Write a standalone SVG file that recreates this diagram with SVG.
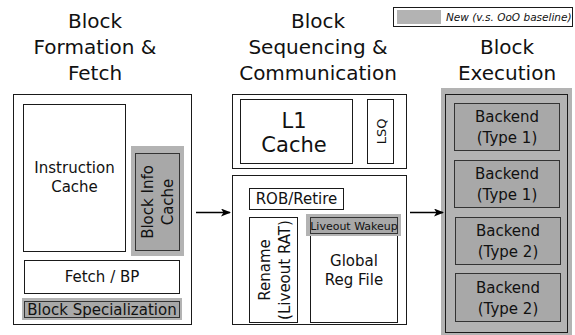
<svg xmlns="http://www.w3.org/2000/svg" width="575" height="335" viewBox="0 0 575 335">
  <defs>
    <style>
      .box { fill: #ffffff; stroke: #1a1a1a; stroke-width: 1; }
      .band { fill: #b3b3b3; stroke: none; }
      .newbox { fill: #a8a8a8; stroke: #333333; stroke-width: 1; }
      .title { font-family: "DejaVu Sans", sans-serif; font-size: 20px; fill: #111; text-anchor: middle; }
      .lbl { font-family: "DejaVu Sans", sans-serif; font-size: 15px; fill: #111; text-anchor: middle; }
      .big { font-family: "DejaVu Sans", sans-serif; font-size: 21px; fill: #111; text-anchor: middle; }
      .small { font-family: "DejaVu Sans", sans-serif; font-size: 11px; fill: #111; text-anchor: middle; }
      .legend { font-family: "DejaVu Sans", sans-serif; font-size: 10.5px; font-style: italic; fill: #111; }
      .conn { stroke: #000; stroke-width: 1.5; fill: none; }
    </style>
    <marker id="arrow" viewBox="0 0 10 8" refX="9" refY="4" markerWidth="10" markerHeight="8" markerUnits="userSpaceOnUse" orient="auto">
      <path d="M0,0 L10,4 L0,8 L2.5,4 Z" fill="#000"/>
    </marker>
  </defs>

  <!-- legend -->
  <g id="legend">
    <rect x="393.5" y="7.5" width="179" height="19" class="box"/>
    <rect x="397" y="10" width="44" height="14" class="band"/>
    <text x="446" y="21" class="legend">New (v.s. OoO baseline)</text>
  </g>

  <!-- column titles -->
  <g id="titles">
    <text class="title" x="95" y="28">Block</text>
    <text class="title" x="95" y="54">Formation &amp;</text>
    <text class="title" x="95" y="80">Fetch</text>
    <text class="title" x="318" y="28">Block</text>
    <text class="title" x="318" y="54">Sequencing &amp;</text>
    <text class="title" x="318" y="80">Communication</text>
    <text class="title" x="507" y="54">Block</text>
    <text class="title" x="507" y="80">Execution</text>
  </g>

  <!-- front end: formation and fetch -->
  <g id="frontend">
    <rect x="13.5" y="94.5" width="178" height="230" class="box"/>
  </g>
  <g id="icache">
    <rect x="23.5" y="104.5" width="102" height="147" class="box"/>
    <text class="lbl" x="74.5" y="173">Instruction</text>
    <text class="lbl" x="74.5" y="192">Cache</text>
  </g>
  <g id="block-info-cache">
    <rect x="131" y="146" width="53" height="110" class="band"/>
    <rect x="135.5" y="153.5" width="44" height="97" class="newbox"/>
    <g transform="translate(157.5,202) rotate(-90)">
      <text class="lbl" x="0" y="-5">Block Info</text>
      <text class="lbl" x="0" y="15">Cache</text>
    </g>
  </g>
  <g id="fetch-bp">
    <rect x="24.5" y="260.5" width="155" height="33" class="box"/>
    <text class="lbl" x="102" y="282">Fetch / BP</text>
  </g>
  <g id="block-specialization">
    <rect x="22" y="298" width="160" height="22" class="band"/>
    <rect x="24.5" y="301.5" width="155" height="16" class="newbox"/>
    <text class="lbl" x="102" y="315">Block Specialization</text>
  </g>

  <!-- sequencing and communication -->
  <g id="memory">
    <rect x="232.5" y="94.5" width="174" height="74" class="box"/>
  </g>
  <g id="l1-cache">
    <rect x="240.5" y="99.5" width="112" height="64" class="box"/>
    <text class="big" x="294" y="128">L1</text>
    <text class="big" x="294" y="152">Cache</text>
  </g>
  <g id="lsq">
    <rect x="367.5" y="99.5" width="26" height="64" class="box"/>
    <text class="lbl" x="0" y="0" transform="translate(380.5,131.5) rotate(-90)" dy="5.5" style="font-size:13px">LSQ</text>
  </g>
  <g id="sequencer">
    <rect x="232.5" y="175.5" width="174" height="149" class="box"/>
  </g>
  <g id="rob">
    <rect x="249.5" y="188.5" width="94" height="21" class="box"/>
    <text class="lbl" x="296.5" y="204">ROB/Retire</text>
  </g>
  <g id="rename">
    <rect x="249.5" y="217.5" width="48" height="105" class="box"/>
    <g transform="translate(273.5,270) rotate(-90)">
      <text class="lbl" x="0" y="-4">Rename</text>
      <text class="lbl" x="0" y="16">(Liveout RAT)</text>
    </g>
  </g>
  <g id="global-reg-file">
    <rect x="310.5" y="217.5" width="87" height="105" class="box"/>
    <rect x="306" y="214" width="95" height="22" class="band"/>
    <rect x="310.5" y="217.5" width="87" height="16" class="newbox"/>
    <text class="small" x="354" y="230">Liveout Wakeup</text>
    <text class="lbl" x="354" y="266">Global</text>
    <text class="lbl" x="354" y="285">Reg File</text>
  </g>

  <!-- execution -->
  <g id="execution">
    <rect x="441" y="88" width="131" height="247" class="band"/>
    <rect x="445.5" y="94.5" width="122" height="238" fill="none" stroke="#1a1a1a" stroke-width="1"/>
  </g>
  <g id="backend-1">
    <rect x="454.5" y="103.5" width="105" height="47" class="newbox"/>
    <text class="lbl" x="507" y="122">Backend</text>
    <text class="lbl" x="507" y="143">(Type 1)</text>
  </g>
  <g id="backend-2">
    <rect x="454.5" y="160.5" width="105" height="47" class="newbox"/>
    <text class="lbl" x="507" y="179">Backend</text>
    <text class="lbl" x="507" y="200">(Type 1)</text>
  </g>
  <g id="backend-3">
    <rect x="455.5" y="217.5" width="105" height="47" class="newbox"/>
    <text class="lbl" x="508" y="236">Backend</text>
    <text class="lbl" x="508" y="257">(Type 2)</text>
  </g>
  <g id="backend-4">
    <rect x="455.5" y="273.5" width="105" height="48" class="newbox"/>
    <text class="lbl" x="508" y="293">Backend</text>
    <text class="lbl" x="508" y="314">(Type 2)</text>
  </g>

  <!-- connectors -->
  <g id="connectors">
    <line x1="196" y1="212.5" x2="230" y2="212.5" class="conn" marker-end="url(#arrow)"/>
    <line x1="410" y1="212.5" x2="443" y2="212.5" class="conn" marker-end="url(#arrow)"/>
  </g>
</svg>
